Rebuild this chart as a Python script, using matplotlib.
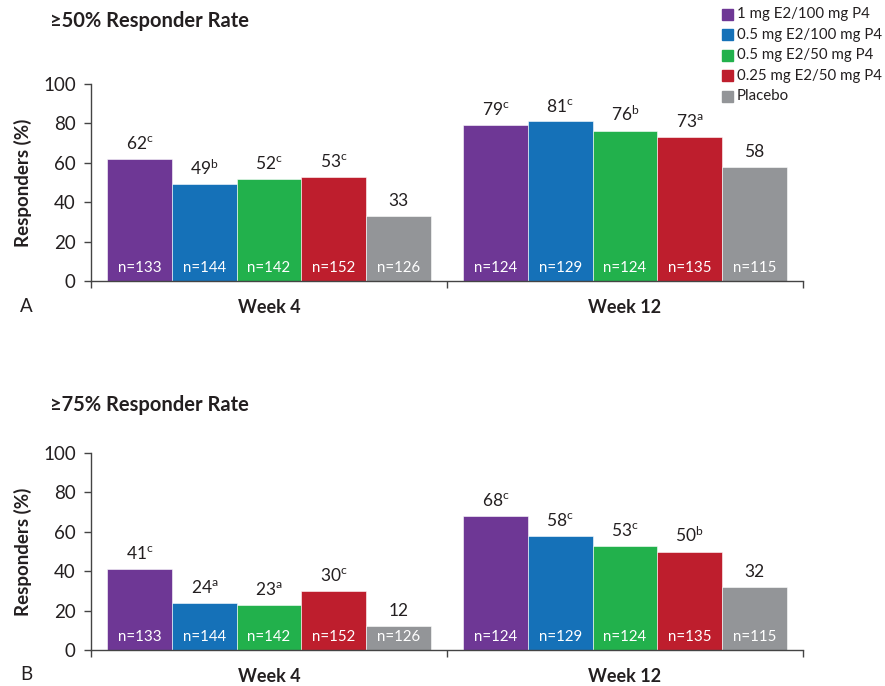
import matplotlib
matplotlib.use("Agg")
import matplotlib.pyplot as plt
import numpy as np

plt.rcParams['font.family'] = ['Lato', 'DejaVu Sans']
plt.rcParams['mathtext.fontset'] = 'custom'
plt.rcParams['mathtext.rm'] = 'Lato'
plt.rcParams['mathtext.it'] = 'Lato:italic'
plt.rcParams['mathtext.bf'] = 'Lato:bold'

weeks = ["Week 4", "Week 12"]
treatments = ["1 mg E2/100 mg P4", "0.5 mg E2/100 mg P4", "0.5 mg E2/50 mg P4",
              "0.25 mg E2/50 mg P4", "Placebo"]
colors = ["#6E3795", "#1571B8", "#22B14C", "#BE1E2D", "#939598"]

n_week4 = [133, 144, 142, 152, 126]
n_week12 = [124, 129, 124, 135, 115]

# >=50% responder rate
r50_week4 = [62, 49, 52, 53, 33]
r50_week12 = [79, 81, 76, 73, 58]
r50_sig_week4 = ["c", "b", "c", "c", ""]
r50_sig_week12 = ["c", "c", "b", "a", ""]

# >=75% responder rate
r75_week4 = [41, 24, 23, 30, 12]
r75_week12 = [68, 58, 53, 50, 32]
r75_sig_week4 = ["c", "a", "a", "c", ""]
r75_sig_week12 = ["c", "c", "c", "b", ""]

text_color = "#231F20"
axis_color = "#444444"

fig = plt.figure(figsize=(8.85, 6.86), dpi=100)

W = 885.0
H = 686.0


def panel(rect, week4, week12, sig4, sig12, title, letter, title_y, letter_y):
    ax = fig.add_axes(rect)
    width = 0.1815
    vals = [week4, week12]
    sigs = [sig4, sig12]
    ns = [n_week4, n_week12]
    for g in range(2):
        for i in range(5):
            x = g + (i - 2) * width
            v = vals[g][i]
            ax.bar(x, v, width=width, color=colors[i], edgecolor="white",
                   linewidth=0.4, zorder=2)
            s = sigs[g][i]
            lab = f"{v}" + (f"$^{{\\mathrm{{{s}}}}}$" if s else "")
            ax.text(x, v + 3.5, lab, ha="center", va="bottom", fontsize=12.5,
                    color=text_color)
            ax.text(x, 6.5, f"n={ns[g][i]}", ha="center", va="center",
                    fontsize=10.8, color="white")
    ax.set_xlim(-0.5, 1.5)
    ax.set_ylim(0, 100)
    ax.set_yticks([0, 20, 40, 60, 80, 100])
    ax.tick_params(axis="y", labelsize=13.5, colors=axis_color, labelcolor=text_color,
                   length=5, width=1, pad=6)
    ax.set_xticks([0, 1])
    ax.set_xticklabels(weeks, fontsize=13, fontweight="bold", color=text_color)
    ax.tick_params(axis="x", which="major", length=0, pad=13)
    ax.set_xticks([-0.5, 0.5, 1.5], minor=True)
    ax.tick_params(axis="x", which="minor", length=5, width=1, colors=axis_color,
                   direction="out")
    for side in ["top", "right"]:
        ax.spines[side].set_visible(False)
    for side in ["left", "bottom"]:
        ax.spines[side].set_color(axis_color)
        ax.spines[side].set_linewidth(1)
    ax.set_ylabel("Responders (%)", fontsize=13.5, fontweight="bold", color=text_color,
                  labelpad=8)
    fig.text(50 / W, 1 - title_y / H, title, fontsize=14.5, fontweight="bold",
             color=text_color, ha="left", va="center")
    fig.text(20 / W, 1 - letter_y / H, letter, fontsize=13.5, color=text_color,
             ha="left", va="center")
    return ax


left = 91 / W
wid = (803 - 91) / W
top_ax = panel([left, 1 - 281 / H, wid, (281 - 84) / H], r50_week4, r50_week12,
               r50_sig_week4, r50_sig_week12, "≥50% Responder Rate", "A", 21, 307)
bot_ax = panel([left, 1 - 650 / H, wid, (650 - 453) / H], r75_week4, r75_week12,
               r75_sig_week4, r75_sig_week12, "≥75% Responder Rate", "B", 405, 675)

# Legend
for i, name in enumerate(treatments):
    y = 1 - (14 + 20.6 * i) / H
    fig.patches.append(plt.Rectangle((722 / W, y - 5.5 / H), 11 / W, 11 / H,
                                     transform=fig.transFigure, color=colors[i],
                                     figure=fig))
    fig.text(737 / W, y, name, fontsize=10.8, color=text_color, ha="left", va="center")

fig.savefig("out.png", dpi=100)
